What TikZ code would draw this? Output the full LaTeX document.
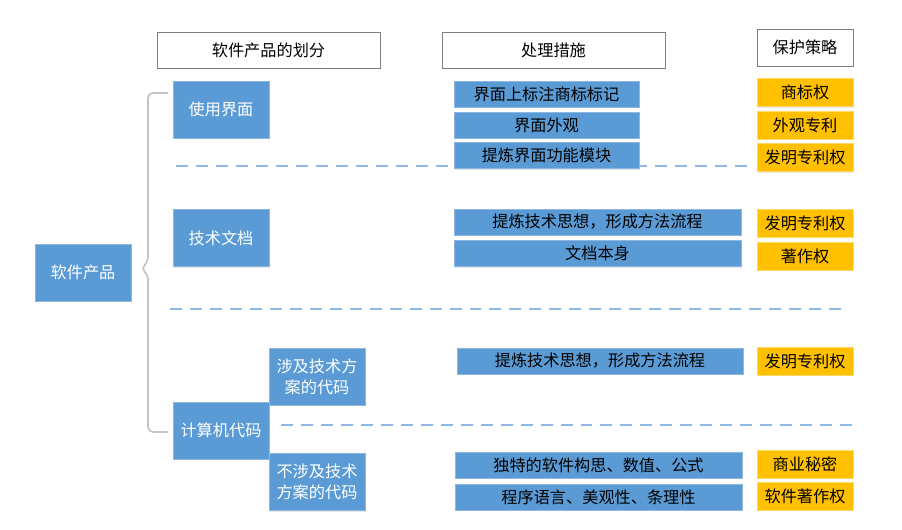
\documentclass[tikz,border=0pt]{standalone}
\usepackage{fontspec}
\setmainfont{Noto Sans CJK SC}
\usetikzlibrary{shadows}
\definecolor{boxblue}{HTML}{5B9BD5}
\definecolor{boxedge}{HTML}{8DB6E0}
\definecolor{boxorange}{HTML}{FFC000}
\definecolor{sepblue}{HTML}{8EB8E6}
\definecolor{bracegray}{HTML}{C4C4C4}
\definecolor{headedge}{HTML}{7F7F7F}

\begin{document}
\begin{tikzpicture}[x=0.025cm, y=-0.025cm,
  every node/.style={font=\fontsize{11.5}{15}\selectfont, inner sep=0pt},
  shade/.style={drop shadow={opacity=0.18, shadow xshift=0.6pt, shadow yshift=-0.8pt}},
  headbox/.style={draw=headedge, fill=white, line width=0.6pt, minimum height=0.9cm},
  partbox/.style={fill=boxblue, draw=boxedge, line width=0.4pt, text=white, shade,
    minimum width=2.4cm, minimum height=1.425cm, align=center},
  stepbox/.style={fill=boxblue, draw=boxedge, line width=0.4pt, shade, minimum height=0.65cm},
  rightbox/.style={fill=boxorange, draw=boxorange!60, line width=0.4pt, shade,
    minimum width=2.4cm, minimum height=0.7cm},
  sep/.style={draw=sepblue, line width=0.9pt, dash pattern=on 8.5pt off 5.7pt}]
  \useasboundingbox (0,0) rectangle (902,530);

  % separators (behind the boxes)
  \draw[sep] (176,166) -- (755,166);
  \draw[sep] (170,309) -- (847,309);
  \draw[sep] (281,425) -- (853,425);

  % column headings
  \node[headbox, minimum width=5.575cm] (hpart) at (268.5,50) {软件产品的划分};
  \node[headbox, minimum width=5.575cm] (hstep) at (553.5,50) {处理措施};
  \node[headbox, minimum width=2.4cm, minimum height=0.925cm] (hright) at (805,47.5) {保护策略};

  % division of the product
  \node[partbox] (prod) at (83,272.5) {软件产品};
  \node[partbox] (ui) at (221,109.5) {使用界面};
  \node[partbox] (doc) at (221,238) {技术文档};
  \node[partbox] (code) at (221,430.5) {计算机代码};
  \node[partbox] (tech) at (317,376.5) {涉及技术方\\案的代码};
  \node[partbox] (notech) at (317,482) {不涉及技术\\方案的代码};

  % brace
  \coordinate (bt) at (168,93);
  \coordinate (bb) at (168,432);
  \draw[bracegray, line width=1.2pt, rounded corners=3.5pt]
    (bt) -- (148,93) -- (148,262) -- (141,268.5) -- (148,275) -- (148,432) -- (bb);

  % measures
  \node[stepbox, minimum width=4.625cm] (s1) at (546.5,94) {界面上标注商标标记};
  \node[stepbox, minimum width=4.625cm] (s2) at (546.5,125) {界面外观};
  \node[stepbox, minimum width=4.625cm] (s3) at (546.5,155.5) {提炼界面功能模块};
  \node[stepbox, minimum width=7.175cm] (s4) at (597.5,222) {提炼技术思想，形成方法流程};
  \node[stepbox, minimum width=7.175cm] (s5) at (597.5,253.5) {文档本身};
  \node[stepbox, minimum width=7.15cm] (s6) at (600,361) {提炼技术思想，形成方法流程};
  \node[stepbox, minimum width=7.175cm] (s7) at (598.5,465) {独特的软件构思、数值、公式};
  \node[stepbox, minimum width=7.175cm] (s8) at (598.5,497) {程序语言、美观性、条理性};

  % protection
  \node[rightbox] (r1) at (805,92.5) {商标权};
  \node[rightbox] (r2) at (805,125) {外观专利};
  \node[rightbox] (r3) at (805,157.5) {发明专利权};
  \node[rightbox] (r4) at (805,223) {发明专利权};
  \node[rightbox] (r5) at (805,256) {著作权};
  \node[rightbox] (r6) at (805,361) {发明专利权};
  \node[rightbox] (r7) at (805,464) {商业秘密};
  \node[rightbox] (r8) at (805,496) {软件著作权};
\end{tikzpicture}
\end{document}
